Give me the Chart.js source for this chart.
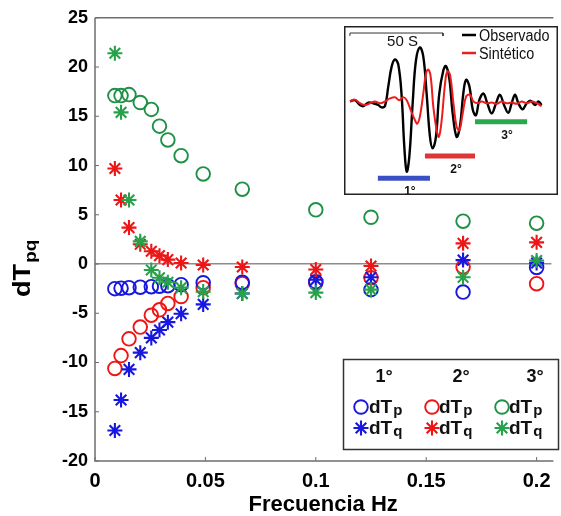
<!DOCTYPE html>
<html>
<head>
<meta charset="utf-8">
<script src="https://cdn.jsdelivr.net/npm/chart.js@4.4.1/dist/chart.umd.min.js"></script>
<style>
  html, body { margin: 0; padding: 0; background: #fff; }
  #wrap { position: relative; width: 561px; height: 516px; overflow: hidden; }
  #main { position: absolute; left: 0; top: 0; }
  #inset { position: absolute; left: 344px; top: 26px; }
</style>
</head>
<body>
<div id="wrap">
  <canvas id="main" width="561" height="516"></canvas>
  <canvas id="inset" width="214" height="169"></canvas>
</div>
<script>
// Frequencies (Hz) and travel-time delays dT (s) per wave group
const freq = [0.0090, 0.0118, 0.0154, 0.0205, 0.0255, 0.0292, 0.0330, 0.0390, 0.0490, 0.0667, 0.1000, 0.1250, 0.1667, 0.2000];
const dTp1 = [-2.5, -2.45, -2.4, -2.35, -2.3, -2.25, -2.2, -2.1, -1.9, -1.85, -1.8, -2.6, -2.85, -0.35];
const dTq1 = [-16.9, -13.8, -10.7, -9.0, -7.5, -6.7, -5.9, -5.05, -4.1, -3.0, -1.6, -1.35, 0.4, 0.1];
const dTp2 = [-10.6, -9.3, -7.6, -6.4, -5.2, -4.65, -4.0, -3.3, -2.4, -2.0, -1.9, -1.4, -0.3, -2.0];
const dTq2 = [9.7, 6.5, 3.7, 2.0, 1.3, 0.85, 0.45, 0.1, -0.1, -0.3, -0.55, -0.2, 2.1, 2.2];
const dTp3 = [17.1, 17.1, 17.2, 16.4, 15.7, 14.0, 12.6, 11.0, 9.15, 7.6, 5.5, 4.75, 4.35, 4.15];
const dTq3 = [21.4, 15.4, 6.5, 2.3, -0.6, -1.4, -1.85, -2.4, -2.8, -3.0, -2.9, -2.6, -1.35, 0.35];

const xTicks = [0, 0.05, 0.1, 0.15, 0.2];
const yTicks = [-20, -15, -10, -5, 0, 5, 10, 15, 20, 25];
const groupLabels = ['1°', '2°', '3°'];

// Seismogram in the inset: time (s) and normalised amplitude
const obsT = [0, 2.7, 5.4, 7.2, 9.9, 12.5, 15.2, 17.0, 18.8, 20.6, 22.4, 24.2, 26.0, 27.8, 29.2, 30.5, 31.9, 33.7, 35.5, 37.6,
              39.4, 41.2, 43.0, 44.4, 46.2, 48.0, 50.2, 51.6, 53.4, 55.2, 57.3, 59.1, 60.9, 62.4, 64.2, 66.0, 67.7, 69.5, 71.7, 73.8,
              76.2, 78.5, 80.6, 82.8, 85.1, 86.9, 88.7, 90.5, 92.8, 95.0, 97.1, 99.5, 101.3, 103.0];
const obsA = [0.01, 0.03, -0.05, -0.07, -0.01, -0.02, -0.05, -0.09, -0.07, 0.26, 0.59, 0.71, 0.62, 0.09, -0.74, -1.16, -0.91, -0.02, 0.70, 0.91,
              0.76, 0.14, -0.58, -0.77, -0.58, 0.14, 0.53, 0.60, 0.39, -0.19, -0.58, -0.41, 0.14, 0.37, 0.26, -0.13, -0.22, 0.03, 0.14, -0.02,
              -0.19, -0.02, 0.12, -0.05, -0.18, -0.02, 0.12, -0.02, -0.12, -0.02, 0.02, -0.05, 0.01, -0.05];
const synT = [0, 2.7, 5.4, 8.1, 10.8, 13.4, 16.1, 18.8, 21.5, 24.2, 26.5, 28.7, 30.5, 32.6, 34.9, 36.2, 37.6, 39.4, 40.9, 42.1,
              43.4, 44.8, 46.6, 47.8, 49.3, 51.1, 52.3, 53.8, 55.6, 57.3, 58.8, 60.6, 62.4, 64.5, 66.3, 68.5, 70.8, 73.5, 76.2, 78.9,
              81.5, 84.2, 86.9, 89.6, 92.3, 95.0, 97.7, 100.4, 103.0];
const synA = [0.01, 0.04, -0.02, -0.05, -0.02, 0.01, -0.02, 0.01, 0.06, 0.08, 0.03, 0.08, 0.03, -0.13, -0.30, -0.36, -0.24, 0.14, 0.48, 0.54,
              0.42, -0.08, -0.47, -0.58, -0.30, 0.31, 0.51, 0.45, -0.02, -0.41, -0.47, -0.19, 0.09, 0.12, 0.01, -0.02, 0.01, -0.02, -0.01, -0.03,
              0.01, -0.02, -0.01, -0.03, 0.01, -0.02, 0.01, -0.02, -0.07];
// Time windows of the three wave groups (start, end in s) and the level they are marked at
const winStart = [15.0, 40.3, 67.2];
const winEnd = [43.0, 67.2, 95.2];
const winLevel = [-1.27, -0.90, -0.33];
// 50 s time scale
const scaleT = [0, 0, 50, 50];
const scaleA = [1.10, 1.15, 1.15, 1.10];

const BLUE = '#1717e0', RED = '#f01515', GREEN_O = '#1f9146', GREEN_S = '#27a24a';
const FONT = 'Liberation Sans, Arial, Helvetica, sans-serif';

function pts(ys) { return freq.map((f, i) => ({ x: f, y: ys[i] })); }
function circleSet(label, ys, color, order) {
  return { label, data: pts(ys), order, showLine: false, pointStyle: 'circle', pointRadius: 6.8,
           pointBorderWidth: 1.9, pointBorderColor: color, pointBackgroundColor: 'rgba(0,0,0,0)', borderColor: color };
}
function starSet(label, ys, color, order) {
  return { label, data: pts(ys), order, showLine: false, pointStyle: 'star', pointRadius: 7.5,
           pointBorderWidth: 2.1, pointBorderColor: color, pointBackgroundColor: color, borderColor: color };
}

function drawMarker(ctx, style, color, x, y) {
  ctx.save();
  ctx.strokeStyle = color;
  if (style === 'circle') {
    ctx.lineWidth = 1.9;
    ctx.beginPath(); ctx.arc(x, y, 6.8, 0, Math.PI * 2); ctx.stroke();
  } else {
    ctx.lineWidth = 2.1;
    ctx.beginPath();
    for (let k = 0; k < 4; k++) {
      const a = k * Math.PI / 4;
      ctx.moveTo(x - 7.5 * Math.cos(a), y - 7.5 * Math.sin(a));
      ctx.lineTo(x + 7.5 * Math.cos(a), y + 7.5 * Math.sin(a));
    }
    ctx.stroke();
  }
  ctx.restore();
}

// main text followed by a lowered subscript, starting at baseline (x, y)
function subText(ctx, main, sub, x, y, size, subSize, drop) {
  ctx.font = 'bold ' + size + 'px ' + FONT;
  ctx.fillText(main, x, y);
  const w = ctx.measureText(main).width;
  ctx.font = 'bold ' + subSize + 'px ' + FONT;
  ctx.fillText(sub, x + w + 1, y + drop);
}

const framePlugin = {
  id: 'frame',
  afterDraw(chart) {
    const { ctx, chartArea: a, scales } = chart;
    ctx.save();
    // axes box
    ctx.strokeStyle = '#6e6e6e';
    ctx.lineWidth = 1.5;
    ctx.beginPath();
    ctx.moveTo(a.left, a.top); ctx.lineTo(a.right + 2, a.top);
    ctx.moveTo(a.left, a.top); ctx.lineTo(a.left, a.bottom); ctx.lineTo(a.right + 2, a.bottom);
    ctx.stroke();
    // inward tick marks
    ctx.lineWidth = 1;
    ctx.beginPath();
    yTicks.forEach(v => { const y = scales.y.getPixelForValue(v); ctx.moveTo(a.left, y); ctx.lineTo(a.left + 4, y); });
    xTicks.forEach(v => { const x = scales.x.getPixelForValue(v); ctx.moveTo(x, a.bottom); ctx.lineTo(x, a.bottom - 4); });
    ctx.stroke();

    // axis titles
    ctx.fillStyle = '#000';
    ctx.textBaseline = 'alphabetic';
    ctx.font = 'bold 22px ' + FONT;
    ctx.textAlign = 'center';
    ctx.fillText('Frecuencia Hz', (a.left + a.right) / 2, 511);
    ctx.textAlign = 'left';
    ctx.save();
    ctx.translate(30, 297);
    ctx.rotate(-Math.PI / 2);
    ctx.scale(1.18, 1);
    subText(ctx, 'dT', 'pq', 0, 0, 23, 16, 6);
    ctx.restore();

    // legend
    const L = { x: 343.5, y: 359.5, w: 215, h: 90 };
    ctx.fillStyle = '#fff';
    ctx.fillRect(L.x, L.y, L.w, L.h);
    ctx.strokeStyle = '#333';
    ctx.lineWidth = 1.5;
    ctx.strokeRect(L.x, L.y, L.w, L.h);
    const cols = [
      { mx: 361, tx: 369, hx: 384, color: BLUE, cs: BLUE },
      { mx: 432, tx: 439, hx: 461, color: RED, cs: RED },
      { mx: 502, tx: 509, hx: 535, color: GREEN_O, cs: GREEN_S }
    ];
    ctx.fillStyle = '#111';
    cols.forEach((c, i) => {
      ctx.font = 'bold 18px ' + FONT;
      ctx.textAlign = 'center';
      ctx.fillText(groupLabels[i], c.hx, 382);
      ctx.textAlign = 'left';
      drawMarker(ctx, 'circle', c.color, c.mx, 407);
      drawMarker(ctx, 'star', c.cs, c.mx, 428);
      subText(ctx, 'dT', 'p', c.tx, 413, 19, 15, 2);
      subText(ctx, 'dT', 'q', c.tx, 434, 19, 15, 2);
    });
    ctx.restore();
  }
};

new Chart(document.getElementById('main'), {
  type: 'scatter',
  data: {
    datasets: [
      circleSet('3° dTp', dTp3, GREEN_O, 6),
      circleSet('2° dTp', dTp2, RED, 5),
      circleSet('1° dTp', dTp1, BLUE, 4),
      starSet('1° dTq', dTq1, BLUE, 3),
      starSet('2° dTq', dTq2, RED, 2),
      starSet('3° dTq', dTq3, GREEN_S, 1)
    ]
  },
  options: {
    responsive: false,
    animation: false,
    events: [],
    layout: { padding: { top: 17, left: 0, right: 0, bottom: 0 } },
    plugins: { legend: { display: false }, tooltip: { enabled: false } },
    scales: {
      x: {
        type: 'linear', min: 0, max: 0.2067,
        afterBuildTicks: s => { s.ticks = xTicks.map(v => ({ value: v })); },
        afterFit: s => { s.height = 55; },
        grid: { display: false, drawTicks: false },
        border: { display: false },
        ticks: { padding: 8, color: '#000', maxRotation: 0, autoSkip: false,
                 font: { family: FONT, weight: 'bold', size: 20 },
                 callback: v => String(v) }
      },
      y: {
        type: 'linear', min: -20, max: 25,
        afterBuildTicks: s => { s.ticks = yTicks.map(v => ({ value: v })); },
        afterFit: s => { s.width = 95; },
        grid: { drawTicks: false, lineWidth: 1.5,
                color: c => (c.tick && c.tick.value === 0) ? '#8c8c8c' : 'rgba(0,0,0,0)' },
        border: { display: false },
        ticks: { padding: 7, color: '#000', autoSkip: false,
                 font: { family: FONT, weight: 'bold', size: 18 },
                 callback: v => String(v) }
      }
    }
  },
  plugins: [framePlugin]
});

// ---- inset: observed and synthetic seismograms ----
const insetPlugin = {
  id: 'insetDecor',
  beforeDraw(chart) {
    const { ctx, width, height } = chart;
    ctx.save();
    ctx.fillStyle = '#fff';
    ctx.fillRect(0, 0, width, height);
    ctx.restore();
  },
  afterDraw(chart) {
    const { ctx, width, height, scales } = chart;
    const X = v => scales.x.getPixelForValue(v), Y = v => scales.y.getPixelForValue(v);
    ctx.save();
    ctx.fillStyle = '#111';
    ctx.textBaseline = 'alphabetic';
    // time-scale caption
    ctx.font = '15px ' + FONT;
    ctx.textAlign = 'center';
    ctx.fillText('50 S', (X(scaleT[0]) + X(scaleT[3])) / 2 + 6, 20);
    // group labels under the windows
    ctx.font = 'bold 12px ' + FONT;
    for (let i = 0; i < 3; i++) {
      ctx.fillText(groupLabels[i], (X(winStart[i]) + X(winEnd[i])) / 2 + 6, Y(winLevel[i]) + 17);
    }
    // legend
    ctx.textAlign = 'left';
    ctx.lineWidth = 2.5;
    ctx.strokeStyle = '#000';
    ctx.beginPath(); ctx.moveTo(118, 9); ctx.lineTo(132, 9); ctx.stroke();
    ctx.strokeStyle = '#e82020';
    ctx.beginPath(); ctx.moveTo(118, 27); ctx.lineTo(132, 27); ctx.stroke();
    ctx.font = '16px ' + FONT;
    ctx.save();
    ctx.translate(135, 0);
    ctx.scale(0.9, 1);
    ctx.fillText('Observado', 0, 15);
    ctx.fillText('Sintético', 0, 33);
    ctx.restore();
    // frame
    ctx.strokeStyle = '#222';
    ctx.lineWidth = 1.5;
    ctx.strokeRect(0.75, 0.75, width - 1.5, height - 1.5);
    ctx.restore();
  }
};

const winColors = ['#3b4fc4', '#e03535', '#2aa84a'];
const insetSets = [
  { data: scaleT.map((t, i) => ({ x: t, y: scaleA[i] })), borderColor: '#333', borderWidth: 1, tension: 0 },
  { data: obsT.map((t, i) => ({ x: t, y: obsA[i] })), borderColor: '#000', borderWidth: 2.4, tension: 0.4 },
  { data: synT.map((t, i) => ({ x: t, y: synA[i] })), borderColor: '#ee1c1c', borderWidth: 2, tension: 0.4 }
];
for (let i = 0; i < 3; i++) {
  insetSets.push({ data: [{ x: winStart[i], y: winLevel[i] }, { x: winEnd[i], y: winLevel[i] }],
                   borderColor: winColors[i], borderWidth: 5, tension: 0 });
}
insetSets.forEach((d, i) => { d.pointRadius = 0; d.showLine = true; d.order = insetSets.length - i; d.borderCapStyle = 'butt'; });

new Chart(document.getElementById('inset'), {
  type: 'scatter',
  data: { datasets: insetSets },
  options: {
    responsive: false,
    animation: false,
    events: [],
    layout: { padding: 0 },
    plugins: { legend: { display: false }, tooltip: { enabled: false } },
    scales: {
      x: { type: 'linear', display: false, min: -3.2, max: 111.8 },
      y: { type: 'linear', display: false, min: -1.55, max: 1.267 }
    }
  },
  plugins: [insetPlugin]
});
</script>
</body>
</html>
